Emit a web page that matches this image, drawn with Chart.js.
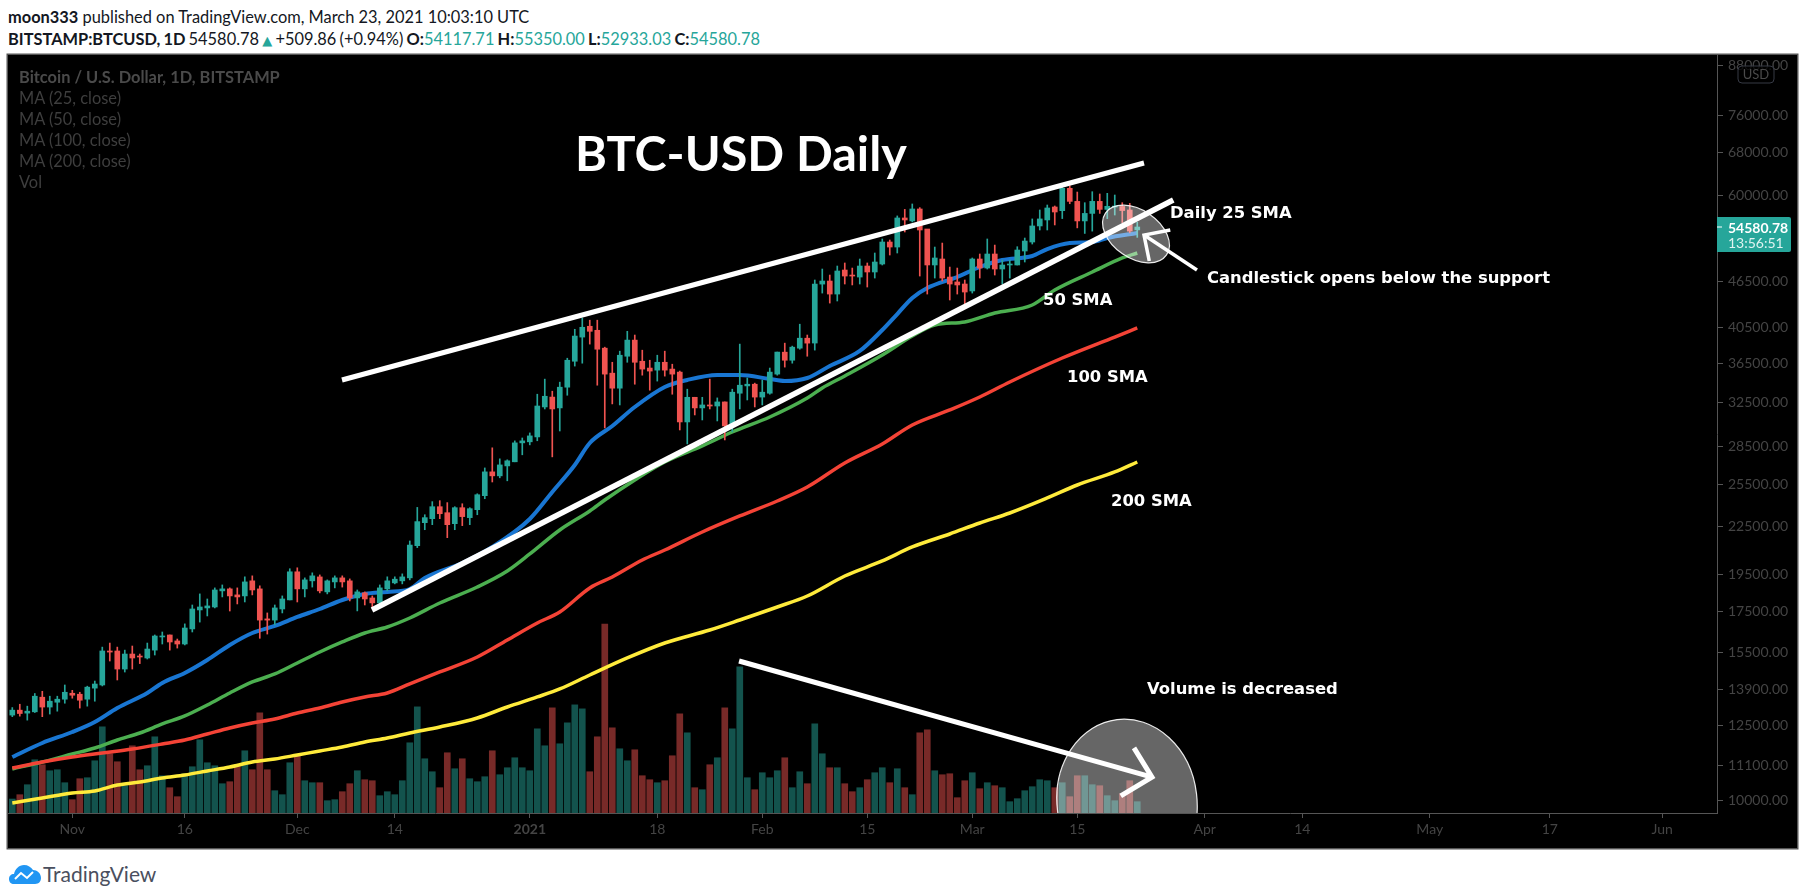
<!DOCTYPE html>
<html>
<head>
<meta charset="utf-8">
<title>BTC-USD Daily</title>
<script src="https://cdn.jsdelivr.net/npm/chart.js@4"></script>
<style>
  html, body { margin: 0; padding: 0; background: #fff; overflow: hidden; }
  body { width: 1805px; height: 895px; position: relative; font-family: Lato, sans-serif; color: #131722; }
  .linha { position: absolute; left: 8px; white-space: nowrap; font-size: 16.4px; line-height: 22px; }
  .verde { color: #26a69a; }
  #painel { position: absolute; left: 8px; top: 55px; width: 1789px; height: 793px; background: #000; box-shadow: 0 0 0 1.5px #555; }
  #legenda { position: absolute; left: 19px; top: 66px; font-size: 16.4px; line-height: 21px; color: #3e3e3e; }
  #legenda b { color: #4a4a4a; }
  #logo { position: absolute; left: 8px; top: 861px; display: flex; align-items: center; font-size: 21px; color: #4a4f5e; }
</style>
</head>
<body>
<div class="linha" style="top:6px"><b>moon333</b> published on TradingView.com, March 23, 2021 10:03:10 UTC</div>
<div class="linha" style="top:28px;word-spacing:-1px"><b>BITSTAMP:BTCUSD, 1D</b> 54580.78 <span class="verde" style="font-family:'DejaVu Sans';font-size:13px">▲</span> +509.86 (+0.94%) <b>O:</b><span class="verde">54117.71</span> <b>H:</b><span class="verde">55350.00</span> <b>L:</b><span class="verde">52933.03</span> <b>C:</b><span class="verde">54580.78</span></div>
<div id="painel"><canvas id="grafico" width="1789" height="793"></canvas></div>
<div id="legenda"><b>Bitcoin / U.S. Dollar, 1D, BITSTAMP</b><br>MA (25, close)<br>MA (50, close)<br>MA (100, close)<br>MA (200, close)<br>Vol</div>
<div id="logo">
  <svg width="34" height="20" viewBox="0 0 34 20"><path d="M1 15c0-3 2-5 5-5 1-5 5-9 10-9 4 0 7 2 9 5 4 0 8 3 8 8 0 3-2 6-6 6H6c-3 0-5-2-5-5z" fill="#2196f3"/><path d="M7 15l6-6 6 5 6-6" fill="none" stroke="#fff" stroke-width="2"/></svg>
  <span style="margin-left:1px">TradingView</span>
</div>
<script>
// dias contados a partir de 1 nov 2020
const primeiroDia = -8;

const abertura = [12880,13070,12955,13005,13580,13190,13380,13500,13740,13700,13500,13950,14080,15570,15570,14760,15430,15340,15250,15610,16230,16325,16040,15895,16620,17580,17685,17735,18600,18710,18380,18325,19160,18710,17120,17060,17630,18110,19680,18710,19160,19385,18545,19100,19330,19160,18215,18490,18215,17950,18710,19045,19160,19330,21260,22760,23030,23860,23440,22690,23790,23100,23650,24650,26450,26140,26920,27250,28820,28910,29330,32050,33000,31960,33980,36690,39410,40690,40210,38140,35420,33880,37240,39060,36690,35960,35740,36580,35850,35530,30660,32980,31960,32240,32140,32530,30300,33380,34110,34280,33000,33380,35320,37690,36800,38140,39280,38720,46100,46520,44760,48060,47350,47070,48630,47780,48920,52210,51440,56060,55570,57570,54260,48780,49650,47070,46390,46110,45170,49650,48340,50390,48200,48780,48780,50840,52210,54750,55730,57910,57280,61200,58880,55570,56820,58880,57500,57900,58000,57400,54117.71];
const maxima = [13170,13300,13225,13730,13820,13620,13620,14080,13860,13780,14030,14245,15750,15940,15750,15610,15800,15430,15940,16325,16470,16325,16130,16870,17840,18435,18160,18765,18930,18765,18765,19390,19445,18880,17425,17840,18325,19860,19915,19330,19620,19500,19215,19445,19445,19270,18650,18545,18325,18930,19390,19390,19560,21560,23810,23300,24220,24290,24150,23860,24070,23790,24790,26760,28400,27490,27410,28990,29240,29680,33280,34800,33580,34490,37020,40330,41690,41430,41430,38250,36580,37800,40090,39650,37910,36800,37350,37800,36370,35640,33780,32980,32980,34800,32920,32530,33780,38600,34920,34390,34700,35960,37700,38710,38370,40940,39650,46660,48200,47350,48630,49070,48340,49650,49070,50540,52680,52520,56400,57500,58430,57800,54200,51440,52050,48480,48340,46660,49800,50390,52680,51740,49500,49500,51490,52830,55900,57400,58250,58080,61550,61680,60530,58650,60590,60180,60300,60000,58650,58530,55350];
const minima = [12820,12840,12690,12980,12820,12920,13030,13340,13540,13150,13225,13420,14040,15115,14290,14630,14760,15000,15205,15385,15895,15610,15705,15850,16470,16960,17270,17685,18270,17525,17895,18000,18380,16165,16370,16815,17425,18110,18000,18270,18810,18490,18435,18765,18810,18055,17530,17840,17685,17895,18600,18990,18990,19215,21140,22290,22625,23030,21770,22290,22560,22625,23300,24430,25670,25990,25760,27250,27820,28650,29000,31860,27650,29850,33180,36170,36480,38600,34180,30120,32340,32240,36580,34280,35210,33680,34600,35110,33280,29940,28730,31300,30840,31860,30750,29070,29770,31860,32720,32050,32240,33280,35210,36060,36480,38020,37240,37920,44890,43580,43850,46110,45980,46110,45700,46930,48780,50240,50540,53780,55400,47210,44760,46930,46520,43980,44760,43460,44890,46930,48200,47350,46110,46930,48780,49210,51900,54100,54100,54910,55960,58470,54440,53550,53920,56820,55950,56550,55300,53650,52933.03];
const fechamento = [13070,12940,13030,13620,13190,13420,13500,13780,13660,13460,13990,14120,15570,15520,14760,15430,15250,15295,15660,16275,16275,15990,15895,16665,17630,17735,17790,18650,18710,18325,18270,19100,18650,17060,17060,17685,18160,19680,18710,19215,19445,18600,19160,19330,19100,18215,18545,18160,17950,18765,19160,19255,19385,21300,22830,23100,23860,23370,22625,23790,23170,23720,24720,26450,26140,27000,27330,28820,28990,29420,32140,33080,31860,33980,36800,39530,40570,40090,38020,35320,33880,37350,39060,36580,35850,35640,36580,35740,35320,30660,32980,31960,32240,32140,32530,30300,33480,34180,34280,33000,33480,35530,37700,36800,38250,39280,38710,46100,46520,44760,47920,47210,47210,48630,47780,49210,52210,51440,56060,55730,57570,54100,48780,49800,46930,46110,45980,45030,49650,48340,50390,48200,48780,48920,50990,52360,54750,55900,57740,57060,61200,58880,55570,56820,58880,57500,58030,58030,57300,53920,54580.78];

const volume = [4200,5500,8500,16000,14500,12700,13000,9100,4000,10300,10600,15700,25900,17800,15400,8200,20200,13000,14200,22900,11200,7600,4900,11800,13900,22000,15100,14200,8800,9400,14000,18700,13000,30100,13000,6700,5500,15100,17200,9700,9100,9100,3700,4000,6400,8800,12700,10000,9700,5200,6400,5500,9700,21100,31900,16300,12400,7600,18100,13300,16300,10300,9400,10900,18700,11500,13600,16600,13600,12700,25300,20200,31600,20800,27100,32500,31300,12400,22900,56800,25600,19300,15700,19000,11200,10000,9100,9700,17200,29800,24100,7600,7000,14500,16600,31600,25300,43900,10600,7000,12100,10600,12700,16600,7600,12400,8800,26800,17800,13600,13600,8800,6400,7600,10000,12100,13600,9100,13300,7600,5500,24100,25000,12700,11500,11800,4600,9700,12100,7300,9100,8200,7600,3400,4300,6700,7900,10000,9700,7600,9100,4900,11200,11200,8500,8200,5200,3700,5800,9700,3400];

// médias móveis
const dias25 = [-8,-4,0,3,6,10,12,15,18,21,24,27,30,33,36,39,42,45,47,52,56,61,64,67,69,72,75,79,82,86,89,93,95,98,101,105,108,110,112,114,118,121,124,128,130,133,136,138,142];
const sma25 = [11378,11860,12252,12620,13153,13750,14164,14590,15161,15849,16421,16765,17218,17629,18105,18430,18539,18704,19323,20200,21179,23009,24921,26994,28808,30294,32046,33999,34712,35230,35230,34815,34610,34918,36180,37821,40246,42194,44240,45569,47077,48490,49504,50093,51140,52056,52210,52833,53619];
const dias50 = [-8,-4,0,3,6,9,12,15,18,21,24,27,30,33,36,39,42,45,49,54,58,61,65,69,71,75,79,84,88,93,98,100,103,108,112,115,119,123,128,131,136,140,142];
const sma50 = [10983,11212,11480,11686,11966,12216,12546,12847,13271,13751,14206,14546,15027,15524,15990,16421,16716,17166,17945,18814,19728,20745,22272,23560,24338,25822,27235,28555,29762,31114,32912,33902,35125,37376,39537,40846,41207,42318,43332,45300,47776,49799,50538];
const dias100 = [-8,-4,0,4,8,12,15,18,21,24,27,30,33,36,39,42,45,49,54,58,62,65,69,72,76,79,84,89,94,98,103,108,112,117,121,125,132,139,142];
const sma100 = [11014,11212,11378,11514,11651,11825,11966,12180,12399,12583,12733,12960,13153,13390,13590,13751,14125,14632,15296,16085,16916,17474,18761,19380,20380,20992,22140,23214,24266,25291,27153,28724,30386,31764,33009,34510,37046,39418,40484];
const dias200 = [-8,-4,0,3,6,9,12,15,18,21,24,27,30,33,36,39,42,45,49,54,58,62,65,69,74,79,85,89,94,98,103,108,112,117,121,125,130,134,139,142];
const sma200 = [9931,10080,10229,10290,10474,10568,10694,10789,10918,11047,11212,11311,11446,11583,11720,11895,12036,12216,12435,12771,13193,13590,13915,14503,15252,15942,16568,17066,17734,18320,19437,20321,21179,22010,22737,23419,24484,25442,26440,27235];

const ticksPreco = [88000,76000,68000,60000,46500,40500,36500,32500,28500,25500,22500,19500,17500,15500,13900,12500,11100,10000];
const ticksDia = [0,15,30,43,61,78,92,106,120,134,151,164,181,197,212];
const ticksDiaTexto = ['Nov','16','Dec','14','2021','18','Feb','15','Mar','15','Apr','14','May','17','Jun'];

// linhas brancas desenhadas à mão no gráfico: [dia, preço]
const canalSuperior = [[35.96,34710],[142.9,65960]];
const suporte = [[39.96,17574],[146.8,59120]];
const setaVolume = [[88.9,15114],[143.96,10722]];
const pontaVolume = [[141.56,11688],[143.96,10722],[139.8,10140]];
const setaVela = [[149.96,48060],[142.9,53300]];
const pontaVela = [[146.4,54100],[142.9,53300],[143.6,49360]];

const verde = '#26a69a';
const vermelho = '#ef5350';
const painelX = 8, painelY = 55;
const fonteNota = 'bold 16.4px "DejaVu Sans"';

const dias = abertura.map((_, i) => primeiroDia + i);
const sobe = fechamento.map((c, i) => c >= abertura[i]);
const pares = (xs, ys) => xs.map((x, i) => ({ x: x, y: ys[i] }));
const linhaBranca = (pts, w) => ({
  type: 'line', order: 1, data: pts.map(p => ({ x: p[0], y: p[1] })), yAxisID: 'y',
  borderColor: '#fff', borderWidth: w, pointRadius: 0, borderCapStyle: 'butt', clip: false
});
const media = (xs, ys, cor, w) => ({
  type: 'line', order: 4, data: pares(xs, ys), yAxisID: 'y',
  borderColor: cor, borderWidth: w, pointRadius: 0, cubicInterpolationMode: 'monotone'
});
// sem margem extra para os rótulos das pontas
const semMargem = s => { s.paddingTop = 0; s.paddingBottom = 0; s.paddingLeft = 0; s.paddingRight = 0; };

// notas do autor: elipses, textos e etiqueta de preço
const notas = {
  id: 'notas',
  afterDatasetDraw(chart, args) {
    if (args.index !== 6) return; // logo depois dos corpos das velas
    const ctx = chart.ctx;
    ctx.save();
    ctx.beginPath();
    ctx.rect(chart.chartArea.left, chart.chartArea.top, chart.chartArea.width, chart.chartArea.height);
    ctx.clip();
    [[1127, 802, 70, 83, -0.12], [1136, 234, 37, 24, 0.6]].forEach(e => {
      ctx.beginPath();
      ctx.ellipse(e[0] - painelX, e[1] - painelY, e[2], e[3], e[4], 0, Math.PI * 2);
      ctx.fillStyle = 'rgba(255,255,255,0.4)';
      ctx.fill();
      ctx.strokeStyle = 'rgba(255,255,255,0.9)';
      ctx.lineWidth = 1.2;
      ctx.stroke();
    });
    ctx.restore();
  },
  afterDraw(chart) {
    const ctx = chart.ctx;
    ctx.save();
    ctx.textBaseline = 'middle';
    ctx.textAlign = 'left';
    ctx.fillStyle = '#fff';
    ctx.font = 'bold 48.5px Lato';
    ctx.fillText('BTC-USD Daily', 575 - painelX, 155 - painelY);
    ctx.font = fonteNota;
    [['Daily 25 SMA', 1170, 214], ['Candlestick opens below the support', 1207, 279], ['50 SMA', 1043, 301],
     ['100 SMA', 1067, 378], ['200 SMA', 1111, 502], ['Volume is decreased', 1147, 690]].forEach(t => {
      ctx.fillText(t[0], t[1] - painelX, t[2] - painelY);
    });

    // etiqueta do último preço
    const yPreco = chart.scales.y.getPixelForValue(fechamento[fechamento.length - 1]);
    const eixoX = chart.chartArea.right;
    ctx.fillStyle = verde;
    ctx.beginPath();
    ctx.roundRect(eixoX, yPreco - 10, 74, 35, [0, 2, 2, 0]);
    ctx.fill();
    ctx.fillStyle = '#fff';
    ctx.fillRect(eixoX, yPreco - 0.5, 5, 1);
    ctx.font = 'bold 14px Lato';
    ctx.fillText('54580.78', eixoX + 11, yPreco + 1);
    ctx.font = '14px Lato';
    ctx.fillStyle = '#dff3f1';
    ctx.fillText('13:56:51', eixoX + 11, yPreco + 16);

    // selo USD
    ctx.fillStyle = 'rgba(0,0,0,0.75)';
    ctx.strokeStyle = '#363a45';
    ctx.lineWidth = 1;
    ctx.beginPath();
    ctx.roundRect(1738 - painelX, 66 - painelY, 36, 17, 4);
    ctx.fill();
    ctx.stroke();
    ctx.fillStyle = '#4a4a4a';
    ctx.font = '13px Lato';
    ctx.textAlign = 'center';
    ctx.fillText('USD', 1756 - painelX, 75 - painelY);
    ctx.restore();
  }
};

new Chart(document.getElementById('grafico'), {
  type: 'bar',
  plugins: [notas],
  data: {
    datasets: [
      { order: 5, yAxisID: 'yVol', grouped: false, barThickness: 6, data: pares(dias, volume),
        backgroundColor: sobe.map(s => s ? 'rgba(38,166,154,0.5)' : 'rgba(239,83,80,0.5)') },
      media(dias200, sma200, '#ffeb3b', 3.5),
      media(dias100, sma100, '#f44336', 3.5),
      media(dias50, sma50, '#4caf50', 3.5),
      media(dias25, sma25, '#1976d2', 4),
      { order: 3, yAxisID: 'y', grouped: false, barThickness: 1, data: dias.map((d, i) => ({ x: d, y: [minima[i], maxima[i]] })),
        backgroundColor: sobe.map(s => s ? verde : vermelho) },
      { order: 2, yAxisID: 'y', grouped: false, barThickness: 5, minBarLength: 1, data: dias.map((d, i) => ({ x: d, y: [abertura[i], fechamento[i]] })),
        backgroundColor: sobe.map(s => s ? verde : vermelho) },
      linhaBranca(canalSuperior, 5),
      linhaBranca(suporte, 5.5),
      linhaBranca(setaVolume, 5),
      linhaBranca(pontaVolume, 5),
      linhaBranca(setaVela, 3.5),
      linhaBranca(pontaVela, 3.5)
    ]
  },
  options: {
    responsive: false,
    animation: false,
    devicePixelRatio: 1,
    layout: { padding: 0 },
    plugins: { legend: { display: false }, tooltip: { enabled: false } },
    scales: {
      x: {
        type: 'linear', offset: false, min: -8.573, max: 219.3,
        afterBuildTicks: s => { s.ticks = ticksDia.map(v => ({ value: v })); },
        afterFit: s => { s.height = 35; semMargem(s); },
        grid: { drawOnChartArea: false, offset: false, color: '#555', tickLength: 5 },
        border: { color: '#555' },
        ticks: {
          autoSkip: false, maxRotation: 0, color: '#444', padding: 3,
          font: c => ({ family: 'Lato', size: 14, weight: c.tick && c.tick.value === 61 ? 'bold' : 'normal' }),
          callback: v => ticksDiaTexto[ticksDia.indexOf(v)]
        }
      },
      y: {
        type: 'logarithmic', position: 'right', min: 9641, max: 90790,
        afterBuildTicks: s => { s.ticks = ticksPreco.map(v => ({ value: v })); },
        afterFit: s => { s.width = 80; semMargem(s); },
        grid: { drawOnChartArea: false, color: '#555', tickLength: 6 },
        border: { color: '#555' },
        ticks: {
          autoSkip: false, color: '#444', padding: 5, font: { family: 'Lato', size: 14 },
          callback: v => v.toFixed(2)
        }
      },
      yVol: { type: 'linear', display: false, min: 0, max: 227800 }
    }
  }
});
</script>
</body>
</html>
